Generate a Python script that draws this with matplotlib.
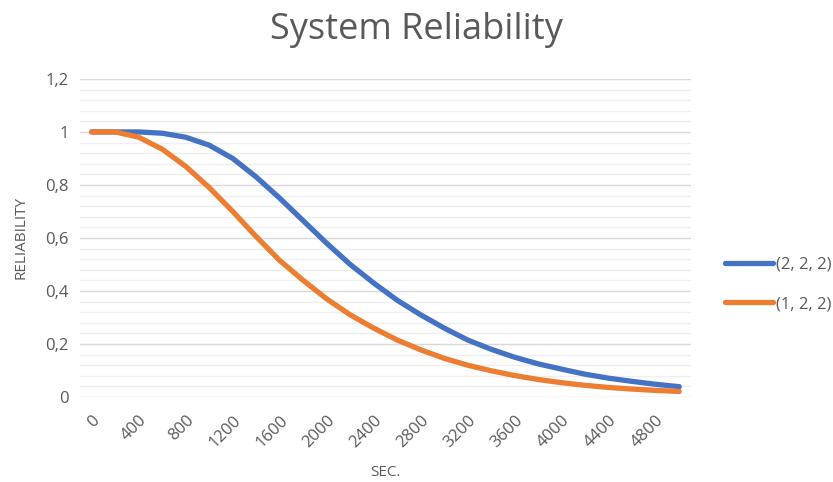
import matplotlib.pyplot as plt
import numpy as np
from matplotlib.ticker import MultipleLocator, FuncFormatter

seconds = list(range(0, 5001, 200))
rel_222 = [1.0, 1.0, 1.0, 0.995, 0.98, 0.95, 0.90, 0.83, 0.75, 0.665, 0.58, 0.50,
           0.43, 0.365, 0.31, 0.26, 0.215, 0.18, 0.15, 0.125, 0.105, 0.086,
           0.071, 0.059, 0.048, 0.039]
rel_122 = [1.0, 1.0, 0.98, 0.935, 0.87, 0.79, 0.70, 0.605, 0.515, 0.44, 0.37, 0.31,
           0.26, 0.215, 0.178, 0.146, 0.12, 0.099, 0.081, 0.066, 0.054, 0.044,
           0.036, 0.030, 0.025, 0.021]
series_names = ["(2, 2, 2)", "(1, 2, 2)"]

plt.rcParams['font.family'] = ['Open Sans', 'DejaVu Sans']
txt = "#595959"

fig = plt.figure(figsize=(8.33, 4.82), dpi=100)
ax = fig.add_axes([0.096, 0.1763, 0.7335, 0.66])

x = np.arange(len(seconds))
ax.plot(x, rel_222, color="#4472C4", lw=3.8, solid_capstyle="round", label=series_names[0], zorder=3)
ax.plot(x, rel_122, color="#ED7D31", lw=3.8, solid_capstyle="round", label=series_names[1], zorder=3)

ax.set_xlim(-0.5, len(seconds) - 0.5)
ax.set_ylim(0, 1.2)
ax.yaxis.set_major_locator(MultipleLocator(0.2))
ax.yaxis.set_minor_locator(MultipleLocator(0.04))
ax.yaxis.set_major_formatter(FuncFormatter(lambda v, p: f"{v:g}".replace(".", ",")))
ax.grid(axis="y", which="major", color="#d9d9d9", lw=1.0, zorder=0)
ax.grid(axis="y", which="minor", color="#efefef", lw=1.0, zorder=0)
ax.set_axisbelow(True)

ax.set_xticks(x[::2])
ax.set_xticklabels([str(s) for s in seconds[::2]], rotation=45, ha="right",
                   rotation_mode="anchor", color=txt, fontsize=12)
ax.tick_params(axis="x", length=0, pad=11)
ax.tick_params(axis="y", which="both", length=0, pad=8, labelcolor=txt, labelsize=12)
for s in ax.spines.values():
    s.set_visible(False)

ax.set_xlabel("SEC.", color=txt, fontsize=11, labelpad=10)
ax.set_ylabel("RELIABILITY", color=txt, fontsize=11, labelpad=12)
fig.text(0.5, 0.938, "System Reliability", ha="center", va="center", color=txt, fontsize=26)

leg = fig.legend(loc="center left", bbox_to_anchor=(0.852, 0.41), frameon=False,
                 fontsize=12, handlelength=2.9, handletextpad=0.15, labelspacing=1.4)
for t in leg.get_texts():
    t.set_color(txt)

fig.savefig("out.png", dpi=100)
